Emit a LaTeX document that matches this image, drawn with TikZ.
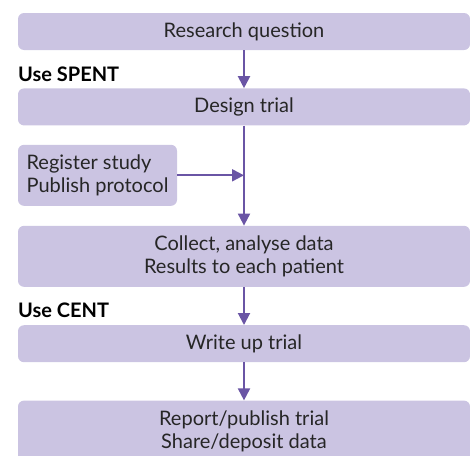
\documentclass[tikz,border=0pt]{standalone}
\usepackage{fontspec}
\setmainfont{Lato}
\usepackage{tikz}
\usetikzlibrary{arrows.meta,positioning}

\definecolor{boxfill}{HTML}{CBC4E2}
\definecolor{arrowc}{HTML}{6A55A5}

\begin{document}
\begin{tikzpicture}[
  node distance=38pt,
  box/.style={fill=boxfill,rounded corners=6pt,align=center,inner sep=0pt,
    minimum width=452pt,minimum height=37pt,font=\fontsize{20}{23}\selectfont,text=black!85},
  tallbox/.style={box,minimum height=61pt},
  sidebox/.style={box,minimum width=159pt,minimum height=61pt,align=left,inner xsep=7pt},
  tag/.style={font=\fontsize{20}{23}\selectfont\bfseries,inner sep=0pt,anchor=base west},
  arr/.style={-{Triangle[length=12pt,width=12pt]},line width=2pt,arrowc},
]
\useasboundingbox (0pt,0pt) rectangle (470pt,-455pt);
\node[box] (question) at (244pt,-31.5pt) {Research question};
\node[box,below=of question] (design) {Design trial};
\node[sidebox,below right=19pt and 0pt of design.south west] (register) {Register study\\Publish protocol};
\node[tallbox,below=100pt of design] (collect) {Collect, analyse data\\Results to each patient};
\node[box,below=of collect] (write) {Write up trial};
\node[tallbox,below=of write] (report) {Report/publish trial\\Share/deposit data};
\node[tag] (spent) at (18pt,-81.5pt) {Use SPENT};
\node[tag] (cent) at (18pt,-317.5pt) {Use CENT};
\coordinate (join) at (design.south |- register.east);
\draw[arr] (question) -- (design);
\draw[arr] (design) -- (collect);
\draw[arr] (register) -- (join);
\draw[arr] (collect) -- (write);
\draw[arr] (write) -- (report);
\end{tikzpicture}
\end{document}
